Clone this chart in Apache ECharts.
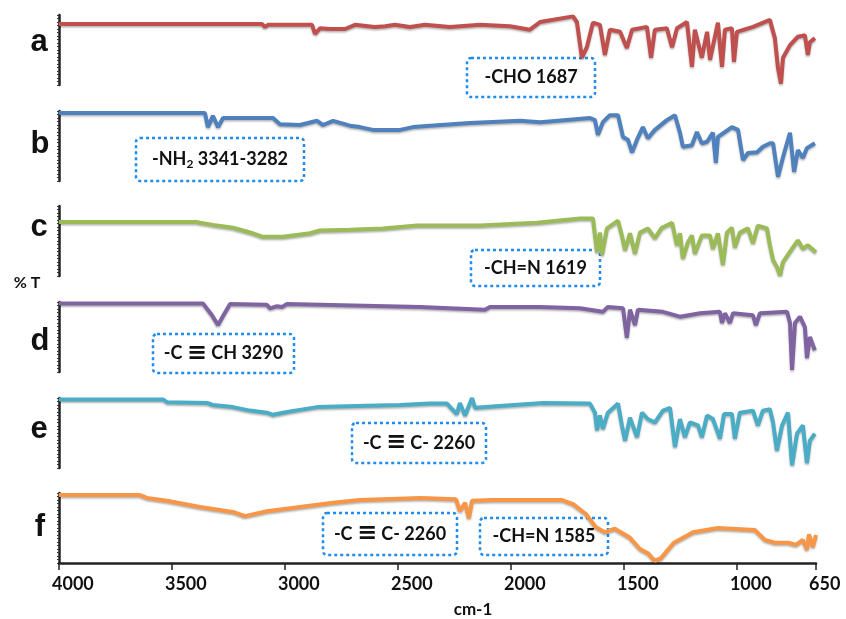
<!DOCTYPE html>
<html>
<head>
<meta charset="utf-8">
<script src="https://cdn.jsdelivr.net/npm/echarts@6/dist/echarts.min.js"></script>
<style>
  html, body { margin: 0; padding: 0; background: #fff; }
  #chart { width: 846px; height: 619px; }
</style>
</head>
<body>
<div id="chart"></div>
<script>
// wavenumber (cm-1), %T within each stacked panel (0 bottom .. 100 top)
const specA = [[4000,87],[3102,87],[3088,83],[3075,86],[2880,86],[2867,73],[2845,81],[2801,80],[2734,80],[2690,86],[2602,83],[2557,84],[2513,86],[2447,83],[2380,86],[2270,83],[2137,86],[2004,84],[1916,79],[1871,90],[1725,98],[1708,90],[1686,39],[1664,54],[1637,89],[1606,86],[1584,43],[1562,79],[1517,76],[1487,53],[1464,79],[1398,83],[1380,39],[1363,79],[1310,81],[1287,54],[1265,81],[1221,90],[1199,26],[1186,79],[1155,39],[1132,76],[1119,36],[1084,89],[1066,26],[1053,79],[1022,81],[1013,33],[1000,76],[929,83],[854,93],[832,67],[818,24],[805,2],[796,39],[765,57],[730,69],[699,71],[686,43],[677,61],[655,67]];
const specB = [[4000,97],[3354,97],[3341,77],[3319,93],[3296,77],[3274,90],[3053,90],[3022,81],[2934,80],[2858,86],[2832,80],[2787,86],[2712,79],[2668,77],[2610,73],[2491,73],[2434,77],[2358,79],[2181,83],[1960,86],[1871,84],[1650,90],[1628,87],[1615,66],[1593,84],[1562,94],[1526,94],[1504,63],[1482,59],[1464,41],[1442,59],[1416,77],[1394,61],[1363,73],[1310,87],[1274,94],[1252,69],[1239,49],[1199,51],[1177,70],[1155,54],[1132,56],[1106,69],[1093,26],[1084,63],[1022,77],[995,73],[973,30],[951,40],[911,41],[885,49],[854,54],[840,54],[818,6],[796,34],[765,69],[747,13],[730,44],[708,33],[690,47],[655,54]];
const specC = [[4000,77],[3389,77],[3376,76],[3319,73],[3230,69],[3142,61],[3097,56],[3009,56],[2889,61],[2845,65],[2712,66],[2566,68],[2416,72],[2137,72],[1885,76],[1694,82],[1637,82],[1619,34],[1606,62],[1597,30],[1575,68],[1526,79],[1509,58],[1495,37],[1473,61],[1451,32],[1429,62],[1394,68],[1363,54],[1332,69],[1287,76],[1265,44],[1252,61],[1239,25],[1217,48],[1199,58],[1186,32],[1155,58],[1119,58],[1106,39],[1084,61],[1062,16],[1044,62],[1022,69],[1009,41],[987,62],[951,68],[929,47],[907,72],[867,68],[854,44],[840,23],[823,13],[809,1],[796,20],[756,39],[730,51],[708,39],[686,44],[650,34]];
const specD = [[4000,98],[3363,98],[3323,81],[3296,67],[3274,80],[3243,97],[3080,96],[3066,91],[3035,94],[3013,93],[2991,97],[2402,93],[2115,89],[2093,93],[1871,93],[1694,91],[1593,86],[1571,93],[1504,91],[1487,49],[1473,89],[1451,67],[1438,89],[1327,86],[1252,79],[1163,84],[1075,86],[1066,70],[1053,84],[1031,70],[1017,84],[929,81],[916,67],[898,84],[778,86],[765,70],[756,3],[743,70],[721,79],[699,64],[690,20],[677,50],[655,31]];
const specE = [[4000,98],[3540,98],[3522,94],[3345,93],[3319,90],[3230,87],[3155,82],[3080,79],[3053,76],[2991,80],[2934,83],[2858,87],[2637,89],[2491,90],[2358,92],[2283,92],[2239,77],[2226,93],[2203,75],[2172,100],[2159,86],[2035,89],[1858,93],[1650,92],[1628,79],[1619,54],[1606,75],[1593,56],[1571,79],[1526,92],[1509,61],[1495,39],[1473,72],[1442,44],[1420,79],[1394,70],[1363,65],[1327,82],[1296,86],[1274,30],[1252,70],[1230,44],[1208,65],[1172,61],[1155,44],[1132,75],[1106,70],[1075,42],[1057,77],[1022,77],[1009,42],[987,79],[929,82],[907,61],[885,82],[854,84],[840,65],[823,25],[800,61],[774,79],[756,4],[734,49],[708,61],[690,7],[677,39],[655,49]];
const specF = [[4000,97],[3642,97],[3611,93],[3522,89],[3376,80],[3230,73],[3177,67],[3080,74],[2934,80],[2787,86],[2668,90],[2398,93],[2243,91],[2226,74],[2203,86],[2186,64],[2172,89],[2084,90],[1774,90],[1725,84],[1668,70],[1624,51],[1584,44],[1540,49],[1473,36],[1429,20],[1394,14],[1363,3],[1336,7],[1279,29],[1194,44],[1084,50],[920,47],[876,33],[832,29],[774,29],[739,26],[708,33],[690,19],[681,41],[664,23],[650,40]];

const spectra = [specA, specB, specC, specD, specE, specF];
const panelNames = ['a', 'b', 'c', 'd', 'e', 'f'];
const panelColors = ['#c0504d', '#4f81bd', '#9bbb59', '#8064a2', '#4bacc6', '#f79646'];
const xTicks = [4000, 3500, 3000, 2500, 2000, 1500, 1000, 650];

// layout
const panelTops = [15, 111, 206, 302, 398, 493];
const panelH = 70;
const letterPos = [[39, 58], [40, 160], [39, 243], [40, 357], [39, 445], [40, 543]];

const notes = [
    {x: 467, y: 58, w: 128, h: 39, text: '-CHO 1687'},
    {x: 136, y: 138, w: 168, h: 43, text: '-NH{sub|2} 3341-3282'},
    {x: 471, y: 250, w: 129, h: 36, text: '-CH=N 1619'},
    {x: 153, y: 334, w: 141, h: 39, text: '-C {tb|≡} CH 3290'},
    {x: 352, y: 423, w: 134, h: 40, text: '-C {tb|≡} C- 2260'},
    {x: 323, y: 513, w: 134, h: 42, text: '-C {tb|≡} C- 2260'},
    {x: 480, y: 518, w: 128, h: 37, text: '-CH=N 1585'}
];

const chart = echarts.init(document.getElementById('chart'));

let grids = [], xAxes = [], yAxes = [], series = [];
for (let i = 0; i < 6; i++) {
    grids.push({left: 59, right: 30, top: panelTops[i], height: panelH});
    xAxes.push({
        gridIndex: i,
        type: 'value',
        min: 650,
        max: 4000,
        inverse: true,
        show: i === 5,
        axisLine: {onZero: false, lineStyle: {color: '#222', width: 2.5}},
        axisTick: {customValues: xTicks, length: 7, lineStyle: {color: '#222', width: 1.5}},
        axisLabel: {
            customValues: xTicks,
            formatter: function (v) { return String(v); },
            margin: 12,
            align: 'left',
            padding: [0, 0, 0, -7],
            color: '#111',
            fontFamily: 'Lato',
            fontWeight: 'bold',
            fontSize: 18
        },
        splitLine: {show: false}
    });
    yAxes.push({
        gridIndex: i,
        type: 'value',
        min: 0,
        max: 100,
        interval: 5,
        axisLine: {show: true, onZero: false, lineStyle: {color: '#222', width: 2.5}},
        axisTick: {show: true, length: 2, lineStyle: {color: '#333', width: 1}},
        axisLabel: {show: false},
        splitLine: {show: false}
    });
    series.push({
        type: 'line',
        xAxisIndex: i,
        yAxisIndex: i,
        data: spectra[i],
        symbol: 'none',
        lineStyle: {
            color: panelColors[i],
            width: 4,
            shadowColor: 'rgba(0,0,0,0.3)',
            shadowBlur: 2,
            shadowOffsetY: 1.5
        }
    });
}

let graphics = [];
panelNames.forEach(function (n, i) {
    graphics.push({
        type: 'text',
        x: letterPos[i][0],
        y: letterPos[i][1],
        style: {
            text: n,
            fill: '#111',
            font: 'bold 31px "Liberation Sans"',
            textAlign: 'center',
            textVerticalAlign: 'bottom'
        }
    });
});
graphics.push({
    type: 'text', x: 27, y: 283,
    style: {text: '% T', fill: '#111', font: 'bold 16px Lato', textAlign: 'center', textVerticalAlign: 'middle'}
});
graphics.push({
    type: 'text', x: 473, y: 610,
    style: {text: 'cm-1', fill: '#111', font: 'bold 17px Lato', textAlign: 'center', textVerticalAlign: 'middle'}
});
notes.forEach(function (nt) {
    graphics.push({
        type: 'rect',
        shape: {x: nt.x, y: nt.y, width: nt.w, height: nt.h, r: 4},
        style: {fill: 'none', stroke: '#1e8cf0', lineWidth: 2.5, lineDash: [3, 3]}
    });
    graphics.push({
        type: 'text',
        x: nt.x + nt.w / 2,
        y: nt.y + nt.h / 2,
        style: {
            text: nt.text,
            fill: '#111',
            fontFamily: 'Lato',
            fontWeight: 'bold',
            fontSize: 18,
            align: 'center',
            verticalAlign: 'middle',
            rich: {
                sub: {fontFamily: 'Lato', fontWeight: 'bold', fontSize: 12, padding: [10, 0, 0, 0], fill: '#111'},
                tb: {fontFamily: 'DejaVu Sans', fontWeight: 'bold', fontSize: 24, fill: '#111'}
            }
        }
    });
});

chart.setOption({
    animation: false,
    grid: grids,
    xAxis: xAxes,
    yAxis: yAxes,
    series: series,
    graphic: graphics
});
</script>
</body>
</html>
